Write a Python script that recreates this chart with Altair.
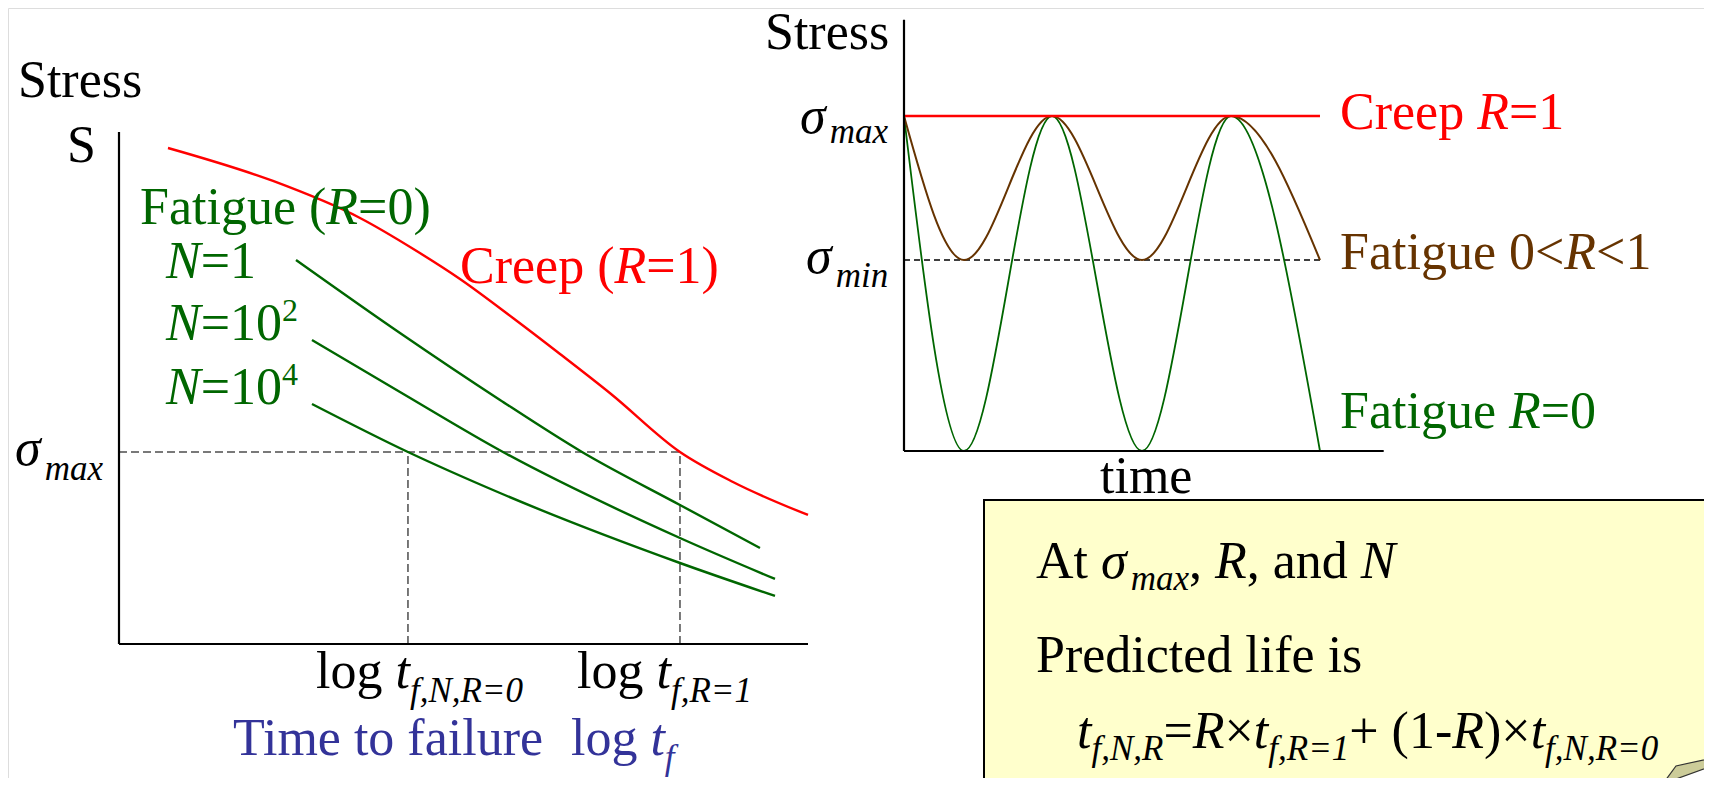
import altair as alt
import pandas as pd

# ---------------- data ----------------
# Left panel: stress (0-10) vs log time to failure (0-10)
LOGT_CREEP = [0.711, 2.235, 3.498, 4.296, 4.949, 5.718, 6.401, 7.141, 8.142, 8.911, 10.0]
S_CREEP = [9.688, 9.043, 8.320, 7.695, 7.129, 6.367, 5.664, 4.883, 3.75, 3.164, 2.520]
LOGT_N1 = [2.569, 4.078, 5.530, 6.720, 8.142, 9.303]
S_N1 = [7.5, 6.074, 4.766, 3.75, 2.715, 1.875]
LOGT_N2 = [2.801, 4.078, 5.573, 8.142, 9.521]
S_N2 = [5.938, 4.922, 3.75, 2.070, 1.270]
LOGT_N4 = [2.801, 4.194, 5.530, 8.142, 9.521]
S_N4 = [4.688, 3.75, 2.949, 1.582, 0.938]
SIGMA_MAX_L = 3.75
LOGT_F_R0 = 4.194
LOGT_F_R1 = 8.142
LEFT_MAX = 10.0

# Right panel: stress (sigma_max = 1) vs time
TIME = [0.0, 0.674, 1.663, 2.674, 3.674, 4.674]
S_FAT_R0 = [1.0, 0.0, 1.0, 0.0, 1.0, 0.0]
S_FAT_R = [1.0, 0.57, 1.0, 0.57, 1.0, 0.57]
SIGMA_MAX_R = 1.0
SIGMA_MIN = 0.57
TIME_END = 4.674
TIME_AXIS_MAX = 5.39
STRESS_AXIS_MAX = 1.287

# ---------------- colours / layout ----------------
RED, GREEN, BROWN, BLUE, BLACK = "#FF0000", "#006600", "#663300", "#333399", "#000000"
FONT = "Liberation Serif, Times New Roman, Times, DejaVu Serif, serif"
M = 8  # page margin
W, H = 1712 - 2 * M, 786 - 2 * M
BIG, SUB, SUP = 52, 35, 32


def sc(domain, px):
    return alt.Scale(domain=list(domain), range=[p - M for p in px], nice=False, zero=False)


LX = sc((0, 10), (119, 808))
LY = sc((0, 10), (644, 132))
RX = sc((0, TIME_AXIS_MAX), (904, 904 + TIME_AXIS_MAX * 89))
RY = sc((0, 1), (451, 116))
PX = alt.Scale(domain=[M, 1712 - M], range=[0, W], nice=False, zero=False)
PY = alt.Scale(domain=[M, 786 - M], range=[0, H], nice=False, zero=False)

# ---------------- left panel ----------------
rows = []
for name, xs, ys, col in [("creep", LOGT_CREEP, S_CREEP, RED), ("n1", LOGT_N1, S_N1, GREEN),
                          ("n2", LOGT_N2, S_N2, GREEN), ("n4", LOGT_N4, S_N4, GREEN)]:
    for a, b in zip(xs, ys):
        rows.append(dict(curve=name, logt=a, stress=b, color=col))
left_df = pd.DataFrame(rows)

left_lines = alt.Chart(left_df).mark_line(interpolate="monotone", strokeWidth=2.4).encode(
    x=alt.X("logt:Q", scale=LX, axis=None),
    y=alt.Y("stress:Q", scale=LY, axis=None),
    color=alt.Color("color:N", scale=None),
    detail="curve:N",
)
left_axes_df = pd.DataFrame([
    dict(x=0, x2=0, y=0, y2=LEFT_MAX),
    dict(x=0, x2=LEFT_MAX, y=0, y2=0),
])
left_axes = alt.Chart(left_axes_df).mark_rule(color=BLACK, strokeWidth=2.2).encode(
    x=alt.X("x:Q", scale=LX, axis=None), x2="x2:Q",
    y=alt.Y("y:Q", scale=LY, axis=None), y2="y2:Q")
left_dash_df = pd.DataFrame([
    dict(x=0, x2=LOGT_F_R1, y=SIGMA_MAX_L, y2=SIGMA_MAX_L),
    dict(x=LOGT_F_R0, x2=LOGT_F_R0, y=0, y2=SIGMA_MAX_L),
    dict(x=LOGT_F_R1, x2=LOGT_F_R1, y=0, y2=SIGMA_MAX_L),
])
left_dash = alt.Chart(left_dash_df).mark_rule(color="#4d4d4d", strokeWidth=1.5, strokeDash=[8, 4]).encode(
    x=alt.X("x:Q", scale=LX, axis=None), x2="x2:Q",
    y=alt.Y("y:Q", scale=LY, axis=None), y2="y2:Q")
left = alt.layer(left_dash, left_lines, left_axes)

# ---------------- right panel ----------------
rrows = []
for name, ys, col, w in [("r0", S_FAT_R0, GREEN, 1.8), ("r", S_FAT_R, BROWN, 2.0)]:
    for a, b in zip(TIME, ys):
        rrows.append(dict(curve=name, t=a, s=b, color=col, w=w))
right_df = pd.DataFrame(rrows)
right_lines = alt.Chart(right_df).mark_line(interpolate="monotone").encode(
    x=alt.X("t:Q", scale=RX, axis=None),
    y=alt.Y("s:Q", scale=RY, axis=None),
    color=alt.Color("color:N", scale=None),
    strokeWidth=alt.StrokeWidth("w:Q", scale=None),
    detail="curve:N",
)
creep_df = pd.DataFrame([dict(x=0, x2=TIME_END, y=SIGMA_MAX_R, y2=SIGMA_MAX_R)])
right_creep = alt.Chart(creep_df).mark_rule(color=RED, strokeWidth=2.5).encode(
    x=alt.X("x:Q", scale=RX, axis=None), x2="x2:Q",
    y=alt.Y("y:Q", scale=RY, axis=None), y2="y2:Q")
rmin_df = pd.DataFrame([dict(x=0, x2=TIME_END, y=SIGMA_MIN, y2=SIGMA_MIN)])
right_min = alt.Chart(rmin_df).mark_rule(color=BLACK, strokeWidth=1.6, strokeDash=[6, 4]).encode(
    x=alt.X("x:Q", scale=RX, axis=None), x2="x2:Q",
    y=alt.Y("y:Q", scale=RY, axis=None), y2="y2:Q")
raxes_df = pd.DataFrame([
    dict(x=0, x2=0, y=0, y2=STRESS_AXIS_MAX),
    dict(x=0, x2=TIME_AXIS_MAX, y=0, y2=0),
])
right_axes = alt.Chart(raxes_df).mark_rule(color=BLACK, strokeWidth=2.2).encode(
    x=alt.X("x:Q", scale=RX, axis=None), x2="x2:Q",
    y=alt.Y("y:Q", scale=RY, axis=None), y2="y2:Q")
right = alt.layer(right_min, right_lines, right_creep, right_axes)

# ---------------- annotations (text runs, note box) ----------------
W_ROM = {"S": .556, "t": .278, "r": .333, "e": .444, "s": .389, "F": .556, "a": .444, "i": .278,
         "g": .5, "u": .5, " ": .25, "(": .333, ")": .333, "=": .564, "<": .564, "C": .667, "p": .5,
         "l": .278, "o": .5, "T": .611, "m": .778, "f": .333, "A": .722, ",": .25, "n": .5, "d": .5,
         "P": .556, "c": .444, "\u00d7": .564, "+": .564, "-": .333}
W_ITA = {"R": .611, "N": .667, "t": .278, "f": .278, ",": .25, "=": .675, "σ": .57, "m": .722,
         "a": .5, "x": .444, "i": .278, "n": .5}


def width(txt, it, size):
    tab = W_ITA if it else W_ROM
    return sum(tab.get(ch, 0.5) for ch in txt) * size


R_, I_ = False, True
LABELS = [
    (18, 97, BLACK, [("Stress", R_, BIG, 0)]),
    (67, 162, BLACK, [("S", R_, BIG, 0)]),
    (140, 224, GREEN, [("Fatigue (", R_, BIG, 0), ("R", I_, BIG, 0), ("=0)", R_, BIG, 0)]),
    (166, 278, GREEN, [("N", I_, BIG, 0), ("=1", R_, BIG, 0)]),
    (166, 340, GREEN, [("N", I_, BIG, 0), ("=10", R_, BIG, 0), ("2", R_, SUP, -19)]),
    (166, 404, GREEN, [("N", I_, BIG, 0), ("=10", R_, BIG, 0), ("4", R_, SUP, -19)]),
    (460, 283, RED, [("Creep (", R_, BIG, 0), ("R", I_, BIG, 0), ("=1)", R_, BIG, 0)]),
    (15, 465, BLACK, [("σ", I_, BIG, 0), ("max", I_, SUB, 15)]),
    (316, 688, BLACK, [("log ", R_, BIG, 0), ("t", I_, BIG, 0), ("f,N,R=0", I_, SUB, 14)]),
    (577, 688, BLACK, [("log ", R_, BIG, 0), ("t", I_, BIG, 0), ("f,R=1", I_, SUB, 14)]),
    (233, 755, BLUE, [("Time to failure  ", R_, BIG, 0), ("log ", R_, BIG, 0), ("t", I_, BIG, 0),
                      ("f", I_, SUB, 14)]),
    (765, 49, BLACK, [("Stress", R_, BIG, 0)]),
    (800, 133, BLACK, [("σ", I_, BIG, 0), ("max", I_, SUB, 10)]),
    (806, 273, BLACK, [("σ", I_, BIG, 0), ("min", I_, SUB, 14)]),
    (1100, 493, BLACK, [("time", R_, BIG, 0)]),
    (1340, 129, RED, [("Creep ", R_, BIG, 0), ("R", I_, BIG, 0), ("=1", R_, BIG, 0)]),
    (1340, 269, BROWN, [("Fatigue 0<", R_, BIG, 0), ("R", I_, BIG, 0), ("<1", R_, BIG, 0)]),
    (1340, 428, GREEN, [("Fatigue ", R_, BIG, 0), ("R", I_, BIG, 0), ("=0", R_, BIG, 0)]),
    (1036, 578, BLACK, [("At ", R_, BIG, 0), ("σ", I_, BIG, 0), ("max", I_, SUB, 12), (", ", R_, BIG, 0),
                        ("R", I_, BIG, 0), (", and ", R_, BIG, 0), ("N", I_, BIG, 0)]),
    (1036, 672, BLACK, [("Predicted life is", R_, BIG, 0)]),
    (1077, 748, BLACK, [("t", I_, BIG, 0), ("f,N,R", I_, SUB, 12), ("=", R_, BIG, 0), ("R", I_, BIG, 0),
                        ("\u00d7", R_, BIG, 0), ("t", I_, BIG, 0), ("f,R=1", I_, SUB, 12),
                        ("+ (1-", R_, BIG, 0), ("R", I_, BIG, 0), (")\u00d7", R_, BIG, 0),
                        ("t", I_, BIG, 0), ("f,N,R=0", I_, SUB, 12)]),
]

trows = []
for x0, y0, col, runs in LABELS:
    x = x0
    for txt, it, size, dy in runs:
        trows.append(dict(t=txt, x=x, y=y0 + dy, c=col, s=size, it=it))
        x += width(txt, it, size)
text_df = pd.DataFrame(trows)


def text_layer(italic):
    base = alt.Chart(text_df[text_df["it"] == italic]).mark_text(
        align="left", baseline="alphabetic", font=FONT,
        fontStyle="italic" if italic else "normal")
    return base.encode(
        x=alt.X("x:Q", scale=PX, axis=None),
        y=alt.Y("y:Q", scale=PY, axis=None),
        text="t:N",
        color=alt.Color("c:N", scale=None),
        size=alt.Size("s:Q", scale=None),
    )


box_df = pd.DataFrame([dict(x=984, x2=1760, y=500, y2=820)])
box = alt.Chart(box_df).mark_rect(fill="#FFFFCC", stroke=BLACK, strokeWidth=2).encode(
    x=alt.X("x:Q", scale=PX, axis=None), x2="x2:Q",
    y=alt.Y("y:Q", scale=PY, axis=None), y2="y2:Q")
cut_df = pd.DataFrame(dict(x=[1662, 1712], y=[785, 766], y2=[820, 820]))
cut = alt.Chart(cut_df).mark_area(color="white").encode(
    x=alt.X("x:Q", scale=PX, axis=None),
    y=alt.Y("y:Q", scale=PY, axis=None), y2="y2:Q")
curl_df = pd.DataFrame(dict(x=[1662, 1676, 1712], y=[785, 766, 758], y2=[785, 779, 766]))
curl = alt.Chart(curl_df).mark_area(color="#CCCC99", stroke="#333333", strokeWidth=1.2).encode(
    x=alt.X("x:Q", scale=PX, axis=None),
    y=alt.Y("y:Q", scale=PY, axis=None), y2="y2:Q")

page = alt.layer(box, cut, curl, text_layer(False), text_layer(True))

chart = alt.layer(left, right, page).resolve_scale(
    x="independent", y="independent"
).properties(
    width=W, height=H, padding=0, autosize="none"
).configure_view(stroke=None).configure(background="white", font=FONT)

chart.save("out.html", embed_options={"renderer": "svg", "actions": False})
